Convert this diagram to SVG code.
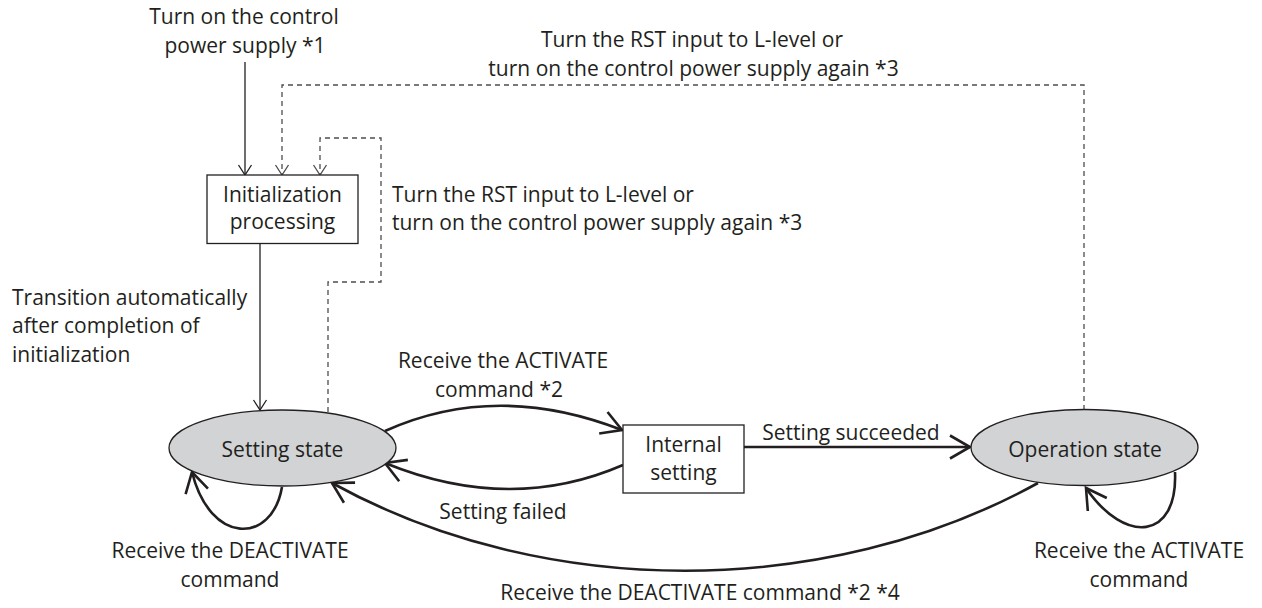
<svg xmlns="http://www.w3.org/2000/svg" width="1262" height="608" viewBox="0 0 1262 608">
<style>
text{font-family:"Open Sans","Noto Sans","Liberation Sans",sans-serif;font-size:21px;fill:#231f20}
.c{text-anchor:middle}
.box{fill:#fff;stroke:#231f20;stroke-width:1.3}
.st{fill:#d1d3d4;stroke:#231f20;stroke-width:1.3}
.thin{fill:none;stroke:#231f20;stroke-width:1.3}
.thick{fill:none;stroke:#231f20;stroke-width:2.6}
.dash{fill:none;stroke:#4d4d4f;stroke-width:1.3;stroke-dasharray:5 4}
</style>
<defs>
<marker id="at" markerUnits="userSpaceOnUse" markerWidth="40" markerHeight="40" viewBox="-30 -20 40 40" refX="0" refY="0" orient="auto">
<path d="M-20,-11.5 L0,0 L-20,11.5" fill="none" stroke="#231f20" stroke-width="2.6"/>
</marker>
<marker id="an" markerUnits="userSpaceOnUse" markerWidth="24" markerHeight="24" viewBox="-16 -12 24 24" refX="0" refY="0" orient="auto">
<path d="M-10,-6.5 L0,0 L-10,6.5" fill="none" stroke="#231f20" stroke-width="1.3"/>
</marker>
<marker id="ad" markerUnits="userSpaceOnUse" markerWidth="24" markerHeight="24" viewBox="-16 -12 24 24" refX="0" refY="0" orient="auto">
<path d="M-10,-6.5 L0,0 L-10,6.5" fill="none" stroke="#4d4d4f" stroke-width="1.3"/>
</marker>
</defs>

<g id="connectors">
<path class="thin" d="M245,62 V175" marker-end="url(#an)"/>
<path class="thin" d="M260,243.5 V410" marker-end="url(#an)"/>
<path class="dash" d="M1084,410 V85 H282 V175" marker-end="url(#ad)"/>
<path class="dash" d="M328,412 V282 H381 V138 H320 V175" marker-end="url(#ad)"/>
<path class="thick" d="M385,431 Q496,381 622,430" marker-end="url(#at)"/>
<path class="thick" d="M623,465 Q510,514 385,463" marker-end="url(#at)"/>
<path class="thick" d="M744,447 H970" marker-end="url(#at)"/>
<path class="thick" d="M1038,483 C826,600 544,600 332,483" marker-end="url(#at)"/>
<path class="thick" d="M282,487 C272,545 210,545 192,472" marker-end="url(#at)"/>
<path class="thick" d="M1175,472 C1178,540 1125,545 1086,488" marker-end="url(#at)"/>
</g>

<g id="node-init">
<rect class="box" x="207" y="175" width="151" height="68.5"/>
<text class="c" x="282.5" y="201.5">Initialization</text>
<text class="c" x="282.5" y="229">processing</text>
</g>

<g id="node-setting-state">
<ellipse class="st" cx="282.5" cy="448" rx="113.5" ry="38"/>
<text class="c" x="282.5" y="456.5">Setting state</text>
</g>

<g id="node-internal-setting">
<rect class="box" x="623" y="425" width="121" height="68"/>
<text class="c" x="683.5" y="451.5">Internal</text>
<text class="c" x="683.5" y="480">setting</text>
</g>

<g id="node-operation-state">
<ellipse class="st" cx="1084.5" cy="447.5" rx="113.5" ry="38"/>
<text class="c" x="1085" y="456.5">Operation state</text>
</g>

<g id="labels">
<text class="c" x="244" y="23.5">Turn on the control</text>
<text class="c" x="245" y="53">power supply *1</text>
<text class="c" x="692" y="46.5">Turn the RST input to L-level or</text>
<text class="c" x="693.5" y="75.5">turn on the control power supply again *3</text>
<text x="392" y="201.5">Turn the RST input to L-level or</text>
<text x="392" y="229.5">turn on the control power supply again *3</text>
<text x="12" y="305">Transition automatically</text>
<text x="12" y="333">after completion of</text>
<text x="12" y="361.5">initialization</text>
<text class="c" x="503" y="368">Receive the ACTIVATE</text>
<text class="c" x="499" y="396.5">command *2</text>
<text class="c" x="851" y="440">Setting succeeded</text>
<text class="c" x="503" y="519">Setting failed</text>
<text class="c" x="230" y="558">Receive the DEACTIVATE</text>
<text class="c" x="230" y="586.5">command</text>
<text class="c" x="1139" y="558">Receive the ACTIVATE</text>
<text class="c" x="1139" y="586.5">command</text>
<text class="c" x="700" y="599.5">Receive the DEACTIVATE command *2 *4</text>
</g>
</svg>
